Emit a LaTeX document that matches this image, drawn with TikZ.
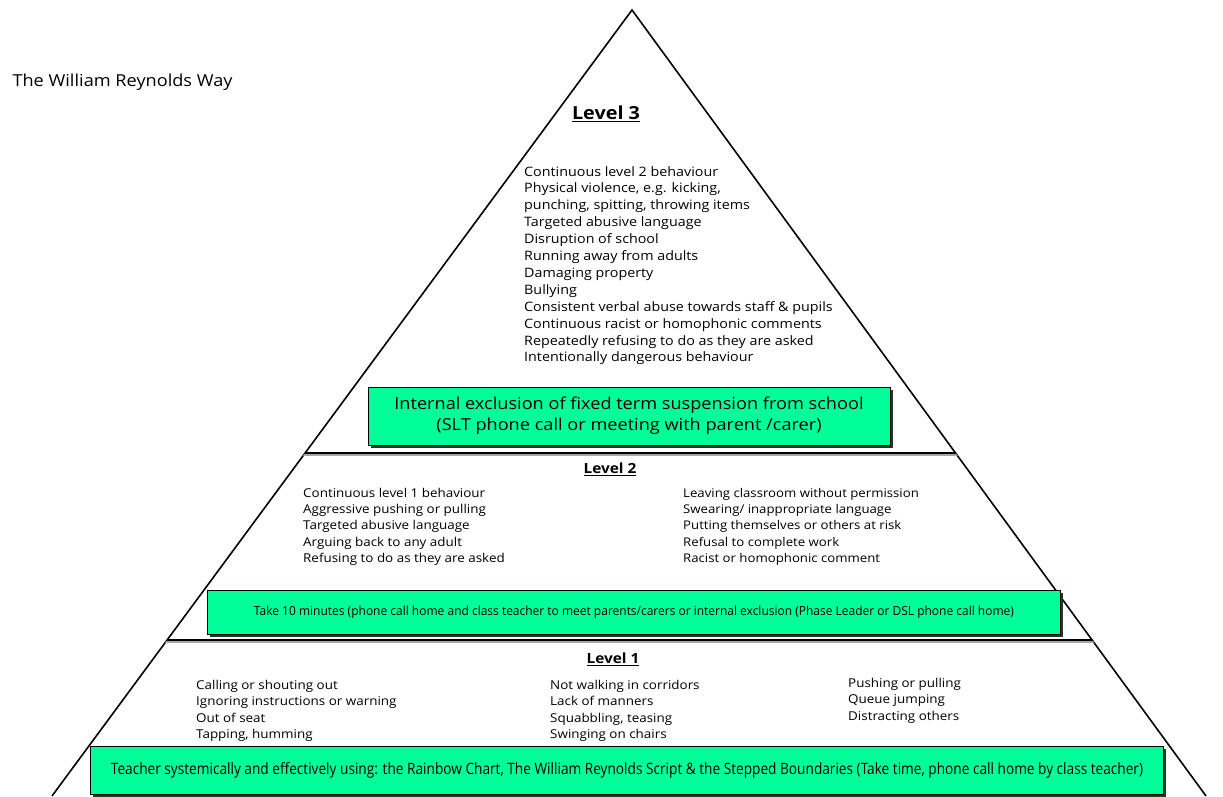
\documentclass[tikz,border=0pt]{standalone}
\usepackage{fontspec}
\setmainfont[FakeStretch=1.1]{Open Sans}
\usetikzlibrary{shadows}
\definecolor{mint}{RGB}{0,255,153}
\definecolor{boxshade}{RGB}{35,55,35}

\tikzset{
  greenbox/.style={fill=mint, draw=black, line width=1pt, inner sep=0pt,
    drop shadow={shadow xshift=2.5pt, shadow yshift=-2.5pt, fill=boxshade, opacity=1}},
  leveltitle/.style={font=\fontsize{14}{16}\selectfont\bfseries},
  itemlist/.style={anchor=north west, align=left, inner sep=0pt},
}

\begin{document}
\begin{tikzpicture}[x=1pt,y=-1pt]
\useasboundingbox (0,0) rectangle (1223,796);

% pyramid outline
\coordinate (apex) at (632,10);
\coordinate (baseL) at (52,796);
\coordinate (baseR) at (1206,796);
\draw[line width=1.6pt, line join=miter] (baseL) -- (apex) -- (baseR);

% dividers between levels
\begin{scope}
\clip (baseL) -- (apex) -- (baseR) -- cycle;
\draw[gray!70, line width=2pt] (0,455) -- (1223,455);
\draw[black, line width=1.8pt] (0,453) -- (1223,453);
\draw[gray!70, line width=2pt] (0,642) -- (1223,642);
\draw[black, line width=1.8pt] (0,640) -- (1223,640);
\end{scope}

\node[anchor=west, font=\fontsize{16.5}{18}\selectfont] (title) at (9,82) {The William Reynolds Way};

% level 3
\node[leveltitle, font=\fontsize{18}{20}\selectfont\bfseries] (lvthree) at (606,114) {\underline{Level 3}};
\node[itemlist, font=\fontsize{13}{16.9}\selectfont] (lvthreelist) at (524,166) {%
Continuous level 2 behaviour\\
Physical violence, e.g. kicking,\\
punching, spitting, throwing items\\
Targeted abusive language\\
Disruption of school\\
Running away from adults\\
Damaging property\\
Bullying\\
Consistent verbal abuse towards staff \& pupils\\
Continuous racist or homophonic comments\\
Repeatedly refusing to do as they are asked\\
Intentionally dangerous behaviour};
\node[greenbox, minimum width=522pt, minimum height=58pt, align=center,
  font=\fontsize{16.5}{21}\selectfont] (lvthreebox) at (629,416)
  {Internal exclusion of fixed term suspension from school\\
   (SLT phone call or meeting with parent /carer)};

% level 2
\node[leveltitle] (lvtwo) at (610,469) {\underline{Level 2}};
\node[itemlist, font=\fontsize{12.2}{16.25}\selectfont] (lvtwoleft) at (303,488) {%
Continuous level 1 behaviour\\
Aggressive pushing or pulling\\
Targeted abusive language\\
Arguing back to any adult\\
Refusing to do as they are asked};
\node[itemlist, font=\fontsize{12}{16.25}\selectfont] (lvtworight) at (683,488) {%
Leaving classroom without permission\\
Swearing/ inappropriate language\\
Putting themselves or others at risk\\
Refusal to complete work\\
Racist or homophonic comment};
\node[greenbox, minimum width=853pt, minimum height=44pt] (lvtwobox) at (634,612)
  {\resizebox{760pt}{9.5pt}{Take 10 minutes (phone call home and class teacher to meet parents/carers or internal exclusion (Phase Leader or DSL phone call home)}};

% level 1
\node[leveltitle] (lvone) at (613,659) {\underline{Level 1}};
\node[itemlist, font=\fontsize{12.2}{16.3}\selectfont] (lvoneleft) at (196,680) {%
Calling or shouting out\\
Ignoring instructions or warning\\
Out of seat\\
Tapping, humming};
\node[itemlist, font=\fontsize{12.2}{16.3}\selectfont] (lvonemid) at (550,680) {%
Not walking in corridors\\
Lack of manners\\
Squabbling, teasing\\
Swinging on chairs};
\node[itemlist, font=\fontsize{12.2}{16.3}\selectfont] (lvoneright) at (848,678) {%
Pushing or pulling\\
Queue jumping\\
Distracting others};
\node[greenbox, minimum width=1073pt, minimum height=48pt] (lvonebox) at (627,770)
  {\resizebox{1032pt}{12pt}{Teacher systemically and effectively using: the Rainbow Chart, The William Reynolds Script \& the Stepped Boundaries (Take time, phone call home by class teacher)}};

\end{tikzpicture}
\end{document}
